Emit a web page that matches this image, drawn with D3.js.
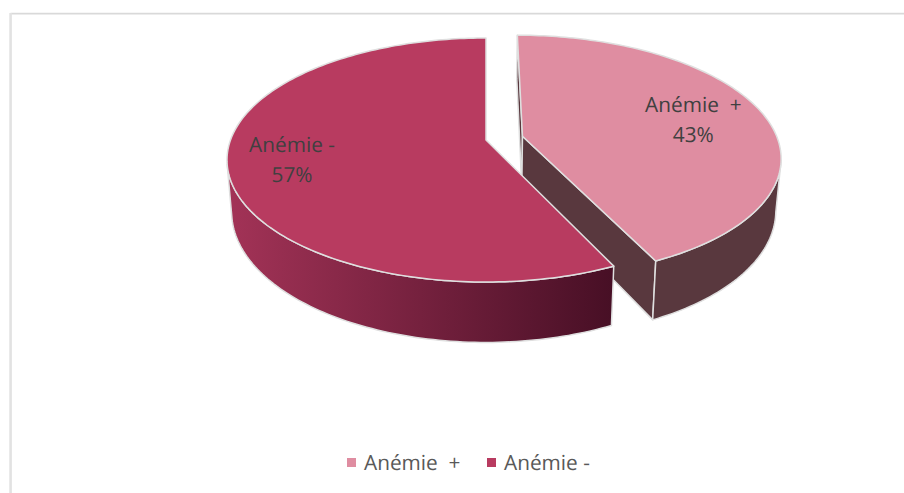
<!DOCTYPE html>
<html>
<head>
<meta charset="utf-8">
<script src="https://cdn.jsdelivr.net/npm/d3@7/dist/d3.min.js"></script>
<style>
html,body{margin:0;padding:0;background:#fff;}
svg{display:block;}
text{font-family:"Open Sans",sans-serif;white-space:pre;text-rendering:geometricPrecision;}
</style>
</head>
<body>
<svg id="c" width="904" height="493"></svg>
<script>
const categories = ["Anémie  +", "Anémie -"];
const values = [43, 57];
const topColors = ["#df8da1", "#b83b60"];
const wallStart = ["#59383e", "#a33357"];
const wallEnd = ["#59383e", "#470f25"];

const W = 904, H = 493;
const svg = d3.select("#c");
svg.append("rect").attr("width", W).attr("height", H).attr("fill", "#fff");

// chart frame
svg.append("path").attr("d", "M904,13.6H10.6").attr("fill", "none")
  .attr("stroke", "#d9d9d9").attr("stroke-width", 1.6);
svg.append("path").attr("d", "M10.6,13V493").attr("fill", "none")
  .attr("stroke", "#e2e2e2").attr("stroke-width", 2.6);

// Perspective projection of the pie's ground plane
const ox = 486, K = 255.5, c = 0.164, A = -95.77, B = 140, H3 = 50.5, lowerScale = 0.982;
function project(u, v, lower) {
  const w = 1 + c * v;
  const x = ox + (lower ? lowerScale : 1) * K * u / w;
  const y = (A * v + B + (lower ? H3 : 0)) / w;
  return [x, y];
}
const arcs = d3.pie().sort(null).value(d => d)(values);
const total = d3.sum(values);
const explode = [0.147, 0];
const line = d3.line();

function rimAngles(a0, a1) {
  const n = Math.ceil(Math.abs(a1 - a0) / 0.02);
  return d3.range(n + 1).map(i => a0 + (a1 - a0) * i / n);
}
function pt(i, a, r, lower) {
  const arc = arcs[i], mid = (arc.startAngle + arc.endAngle) / 2;
  const e = explode[i];
  const u = e * Math.sin(mid) + r * Math.sin(a);
  const v = e * Math.cos(mid) + r * Math.cos(a);
  return project(u, v, lower);
}
const defs = svg.append("defs");
const edge = "#dfdfdf", edgeW = 1.5;

function drawSlice(i) {
  const arc = arcs[i], s = arc.startAngle, e = arc.endAngle;
  const g = svg.append("g");
  const grad = defs.append("linearGradient").attr("id", "wall" + i)
    .attr("gradientUnits", "userSpaceOnUse");
  // front-facing part of the outer wall
  const frontStart = Math.PI / 2 + 0.2, frontEnd = 3 * Math.PI / 2 - 0.2;
  const a0 = Math.max(s, frontStart), a1 = Math.min(e, frontEnd);
  const wallTop = rimAngles(a0, a1).map(a => pt(i, a, 1, false));
  const wallLow = rimAngles(a1, a0).map(a => pt(i, a, 1, true));
  const xs = wallTop.map(p => p[0]);
  grad.attr("x1", d3.min(xs)).attr("x2", d3.max(xs)).attr("y1", 0).attr("y2", 0);
  grad.append("stop").attr("offset", 0).attr("stop-color", wallStart[i]);
  grad.append("stop").attr("offset", 1).attr("stop-color", wallEnd[i]);

  if (i === 0) {
    // cut faces visible from the camera
    [s, e].forEach(a => {
      g.append("path")
        .attr("d", line([pt(i, a, 0, false), pt(i, a, 1, false), pt(i, a, 1, true), pt(i, a, 0, true)]) + "Z")
        .attr("fill", wallStart[i]).attr("stroke", edge).attr("stroke-width", edgeW).attr("stroke-linejoin", "round");
    });
  }
  g.append("path")
    .attr("d", line(wallTop.concat(wallLow)) + "Z")
    .attr("fill", `url(#wall${i})`).attr("stroke", edge).attr("stroke-width", edgeW).attr("stroke-linejoin", "round");

  const rim = rimAngles(s, e).map(a => pt(i, a, 1, false));
  g.append("path")
    .attr("d", line([pt(i, s, 0, false)].concat(rim)) + "Z")
    .attr("fill", topColors[i]).attr("stroke", edge).attr("stroke-width", edgeW).attr("stroke-linejoin", "round");
}
drawSlice(0);
drawSlice(1);

// data labels
const fontSize = 20.8;
const labelR = [0.71, 0.757], labelDy = [2, 0];
arcs.forEach((arc, i) => {
  const mid = (arc.startAngle + arc.endAngle) / 2;
  const p = pt(i, mid, labelR[i], false);
  const t = svg.append("text").attr("text-anchor", "middle")
    .attr("font-size", fontSize).attr("fill", "#404040");
  t.append("tspan").attr("x", p[0]).attr("y", p[1] + labelDy[i] - 8).text(categories[i]);
  t.append("tspan").attr("x", p[0]).attr("y", p[1] + labelDy[i] + 22).text(d3.format(".0%")(values[i] / total));
});

// legend
const legendX = d3.scaleOrdinal().domain(categories).range([347, 487]);
const leg = svg.append("g");
categories.forEach((cat, i) => {
  leg.append("rect").attr("x", legendX(cat)).attr("y", 458).attr("width", 9).attr("height", 9).attr("fill", topColors[i]);
  leg.append("text").attr("x", legendX(cat) + 17).attr("y", 470).attr("font-size", fontSize).attr("fill", "#595959").text(cat);
});
</script>
</body>
</html>
